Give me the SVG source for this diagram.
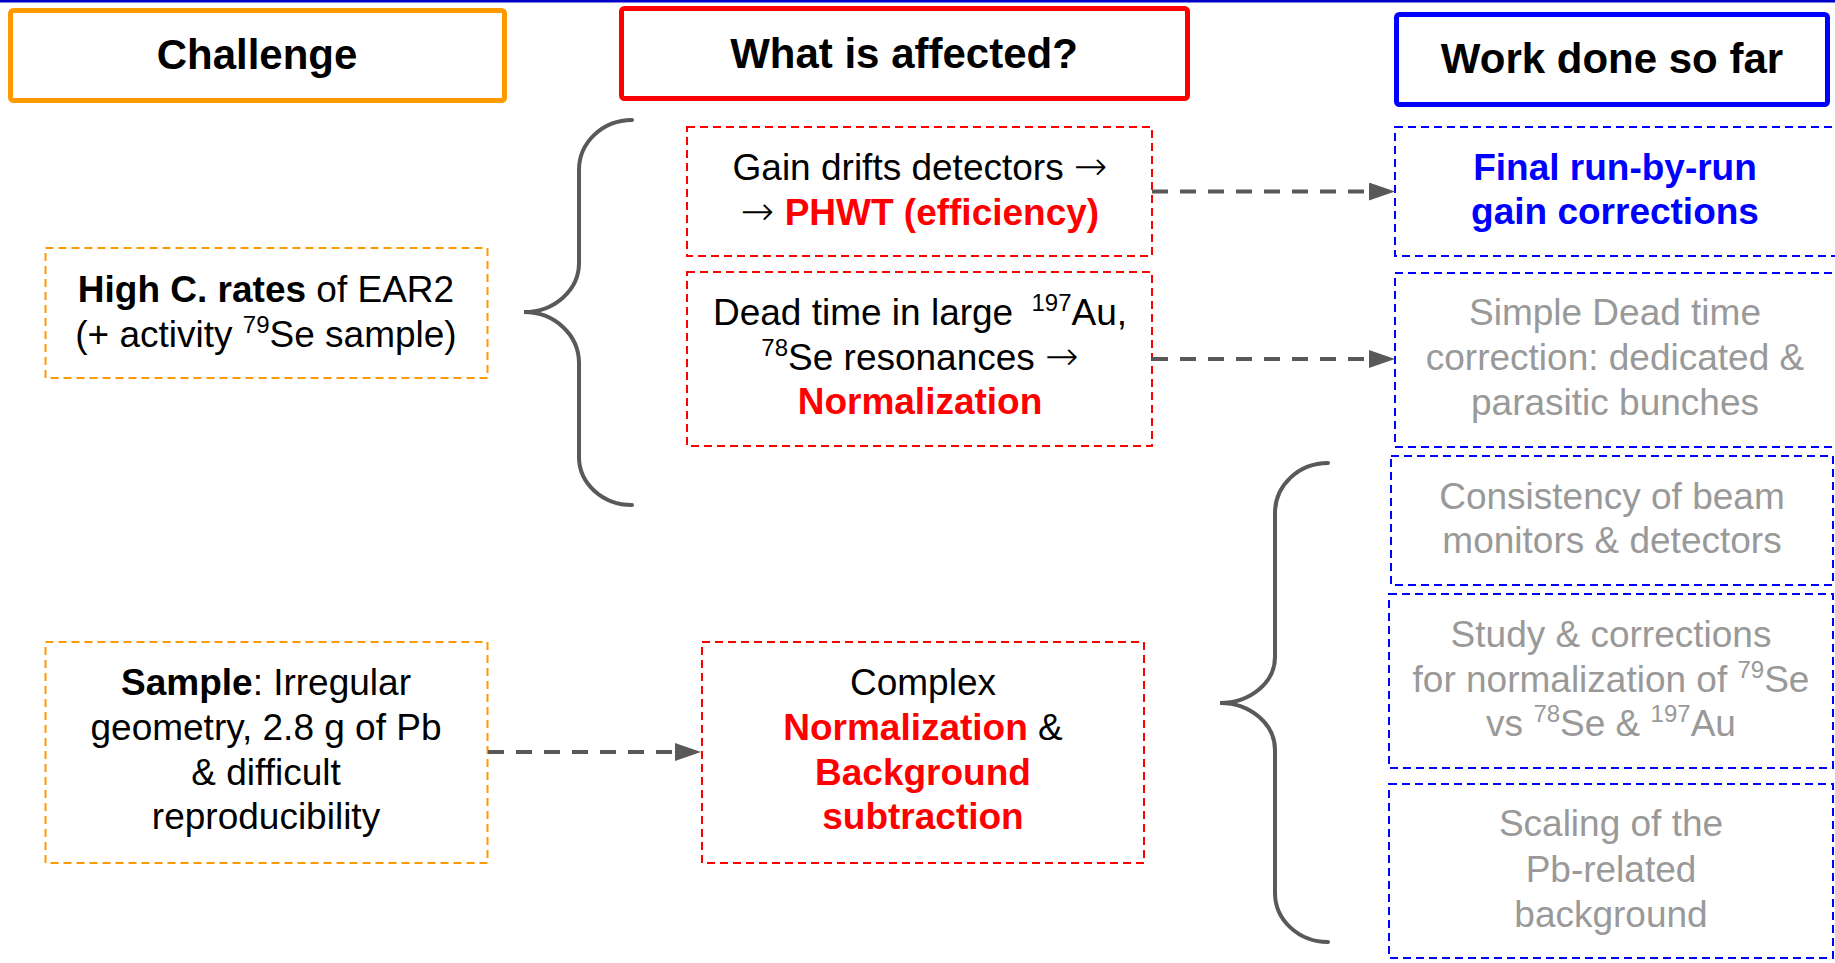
<svg xmlns="http://www.w3.org/2000/svg" width="1835" height="963" viewBox="0 0 1835 963">
<style>
text{font-family:"Liberation Sans",Arial,sans-serif;font-size:37px;fill:#000;text-anchor:middle}
.h{font-size:42px;font-weight:bold}
.b{font-weight:bold}
.r{fill:#ff0000}
.bl{fill:#0000ff}
.g{fill:#999999}
.sup{font-size:24px}
.ar{font-family:"DejaVu Sans",sans-serif;font-size:40px;font-weight:200}
.hdr{fill:#fff;stroke-width:5}
.dash{fill:#fff;stroke-width:2;stroke-dasharray:8 5}
.or{stroke:#ff9900}
.rd{stroke:#ff0000}
.bu{stroke:#0000ff}
.conn{fill:none;stroke:#595959;stroke-width:4;stroke-dasharray:16 12}
.brace{fill:none;stroke:#595959;stroke-width:4;stroke-linecap:round}
</style>
<defs>
<marker id="ah" markerUnits="userSpaceOnUse" markerWidth="26" markerHeight="18" viewBox="0 0 26 18" refX="0" refY="9" orient="auto">
<polygon points="0,0 26,9 0,18" fill="#595959"/>
</marker>
</defs>
<rect x="0" y="0" width="1835" height="2.5" fill="#0000c8"/>

<g id="hdr-challenge">
<rect class="hdr or" x="10.5" y="10.5" width="494" height="90" rx="3"/>
<text class="h" x="257" y="69">Challenge</text>
</g>
<g id="hdr-affected">
<rect class="hdr rd" x="621.5" y="8.5" width="566" height="90" rx="3"/>
<text class="h" x="904" y="68">What is affected?</text>
</g>
<g id="hdr-work">
<rect class="hdr bu" x="1396.5" y="14.5" width="431" height="90" rx="3"/>
<text class="h" x="1612" y="73">Work done so far</text>
</g>

<g id="node-highc">
<rect class="dash or" x="45.5" y="248" width="442" height="130"/>
<text x="266" y="302"><tspan class="b">High C. rates</tspan> of EAR2</text>
<text x="266" y="347">(+ activity <tspan class="sup" dy="-14">79</tspan><tspan dy="14">Se sample)</tspan></text>
</g>

<g id="node-sample">
<rect class="dash or" x="45.5" y="642" width="442" height="221"/>
<text x="266" y="695"><tspan class="b">Sample</tspan>: Irregular</text>
<text x="266" y="740">geometry, 2.8 g of Pb</text>
<text x="266" y="785">&amp; difficult</text>
<text x="266" y="829">reproducibility</text>
</g>

<g id="node-gain">
<rect class="dash rd" x="687" y="127" width="465" height="129"/>
<text x="920" y="180">Gain drifts detectors <tspan class="ar">→</tspan></text>
<text x="920" y="225"><tspan class="ar">→</tspan> <tspan class="r b">PHWT (efficiency)</tspan></text>
</g>

<g id="node-deadtime">
<rect class="dash rd" x="687" y="272" width="465" height="174"/>
<text x="920" y="325">Dead time in large <tspan class="sup" dx="8" dy="-14">197</tspan><tspan dy="14">Au,</tspan></text>
<text x="920" y="370"><tspan class="sup" dy="-14">78</tspan><tspan dy="14">Se resonances </tspan><tspan class="ar">→</tspan></text>
<text class="r b" x="920" y="414">Normalization</text>
</g>

<g id="node-complex">
<rect class="dash rd" x="702" y="642" width="442" height="221"/>
<text x="923" y="695">Complex</text>
<text x="923" y="740"><tspan class="r b">Normalization</tspan> &amp;</text>
<text class="r b" x="923" y="785">Background</text>
<text class="r b" x="923" y="829">subtraction</text>
</g>

<g id="node-final">
<rect class="dash bu" x="1395" y="127" width="450" height="129"/>
<text class="b bl" x="1615" y="180">Final run-by-run</text>
<text class="b bl" x="1615" y="224">gain corrections</text>
</g>

<g id="node-simple">
<rect class="dash bu" x="1395" y="273" width="450" height="174"/>
<text class="g" x="1615" y="325">Simple Dead time</text>
<text class="g" x="1615" y="370">correction: dedicated &amp;</text>
<text class="g" x="1615" y="415">parasitic bunches</text>
</g>

<g id="node-consistency">
<rect class="dash bu" x="1391" y="456" width="442" height="129"/>
<text class="g" x="1612" y="509">Consistency of beam</text>
<text class="g" x="1612" y="553">monitors &amp; detectors</text>
</g>

<g id="node-study">
<rect class="dash bu" x="1389" y="594" width="444" height="174"/>
<text class="g" x="1611" y="647">Study &amp; corrections</text>
<text class="g" x="1611" y="692">for normalization of <tspan class="sup" dy="-14">79</tspan><tspan dy="14">Se</tspan></text>
<text class="g" x="1611" y="736">vs <tspan class="sup" dy="-14">78</tspan><tspan dy="14">Se &amp; </tspan><tspan class="sup" dy="-14">197</tspan><tspan dy="14">Au</tspan></text>
</g>

<g id="node-scaling">
<rect class="dash bu" x="1389" y="784" width="444" height="174"/>
<text class="g" x="1611" y="836">Scaling of the</text>
<text class="g" x="1611" y="882">Pb-related</text>
<text class="g" x="1611" y="927">background</text>
</g>

<g id="connectors">
<path class="brace" d="M632,120 A53,50 0 0 0 579,170 L579,263 A55,49 0 0 1 524,312 A55,51 0 0 1 579,363 L579,457 A53,48 0 0 0 632,505"/>
<path class="brace" d="M1328,463 A53,50 0 0 0 1275,513 L1275,657 A55,46 0 0 1 1220,703 A55,47 0 0 1 1275,750 L1275,893 A53,49 0 0 0 1328,942"/>
<line class="conn" x1="1152" y1="191.5" x2="1369" y2="191.5" marker-end="url(#ah)"/>
<line class="conn" x1="1152" y1="359" x2="1369" y2="359" marker-end="url(#ah)"/>
<line class="conn" x1="488" y1="752" x2="675" y2="752" marker-end="url(#ah)"/>
</g>
</svg>
